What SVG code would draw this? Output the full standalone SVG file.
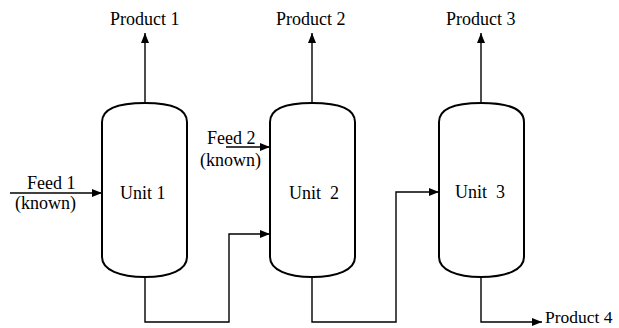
<svg xmlns="http://www.w3.org/2000/svg" width="619" height="328" viewBox="0 0 619 328">
<style>
.vessel{fill:none;stroke:#000;stroke-width:2}
.line{fill:none;stroke:#000;stroke-width:1.4}
.t{font-family:'Liberation Serif','Times New Roman',serif;font-size:18px;fill:#000}
</style>
<defs>
<marker id="arr" viewBox="0 0 10 8" refX="10" refY="4" markerWidth="10" markerHeight="8" markerUnits="userSpaceOnUse" orient="auto">
<path d="M0,0 L10,4 L0,8 Z" fill="#000"/>
</marker>
</defs>
<rect width="619" height="328" fill="#fff"/>
<g id="unit1">
<path class="vessel" d="M102,257 L102,122 C102,108 120,103 145,103 C170,103 187,108 187,122 L187,257 C187,270 170,277 145,277 C120,277 102,270 102,257 Z"/>
<text class="t" x="120" y="199">Unit 1</text>
</g>
<g id="unit2">
<path class="vessel" d="M270,257 L270,122 C270,108 288,103 312,103 C337,103 355,108 355,122 L355,257 C355,270 337,277 312,277 C288,277 270,270 270,257 Z"/>
<text class="t" x="289" y="199" xml:space="preserve">Unit  2</text>
</g>
<g id="unit3">
<path class="vessel" d="M439,257 L439,122 C439,108 457,103 481,103 C506,103 524,108 524,122 L524,257 C524,270 506,277 481,277 C457,277 439,270 439,257 Z"/>
<text class="t" x="455" y="198" xml:space="preserve">Unit  3</text>
</g>
<g id="labels">
<text class="t" x="110" y="25">Product 1</text>
<text class="t" x="276" y="25">Product 2</text>
<text class="t" x="446" y="25">Product 3</text>
<text class="t" x="545" y="323" style="font-size:17.5px">Product 4</text>
<text class="t" x="27" y="189">Feed 1</text>
<text class="t" x="15" y="209">(known)</text>
<text class="t" x="207" y="144">Feed 2</text>
<text class="t" x="200" y="166">(known)</text>
</g>
<g id="connectors">
<line class="line" x1="145" y1="103" x2="145" y2="33" marker-end="url(#arr)"/>
<line class="line" x1="312" y1="103" x2="312" y2="33" marker-end="url(#arr)"/>
<line class="line" x1="481" y1="103" x2="481" y2="33" marker-end="url(#arr)"/>
<line class="line" x1="10" y1="193" x2="102" y2="193" marker-end="url(#arr)"/>
<line class="line" x1="226" y1="147" x2="270" y2="147" marker-end="url(#arr)"/>
<polyline class="line" points="145,277 145,322 229,322 229,234 270,234" marker-end="url(#arr)"/>
<polyline class="line" points="312,277 312,322 396,322 396,192 439,192" marker-end="url(#arr)"/>
<polyline class="line" points="481,277 481,322 542,322" marker-end="url(#arr)"/>
</g>
</svg>
